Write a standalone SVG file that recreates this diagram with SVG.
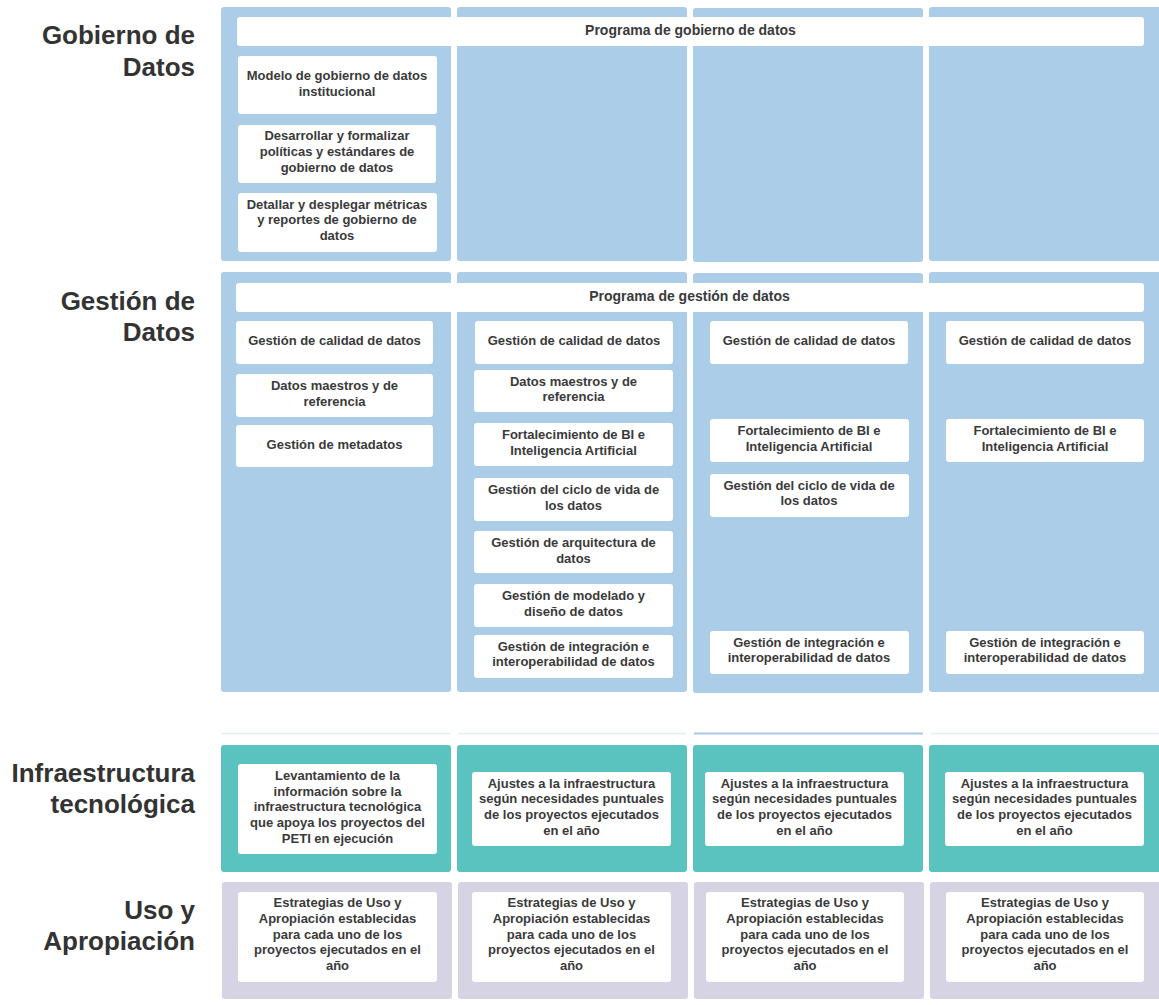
<svg xmlns="http://www.w3.org/2000/svg" width="1159" height="1005" viewBox="0 0 1159 1005">
<style>
.lbl{font-family:"Liberation Sans",Arial,sans-serif;font-weight:bold;font-size:26px;fill:#333;text-anchor:end}
.t{font-family:"Liberation Sans",Arial,sans-serif;font-weight:bold;font-size:13px;fill:#3a3a3a;text-anchor:middle}
.h{font-family:"Liberation Sans",Arial,sans-serif;font-weight:bold;font-size:14px;fill:#3a3a3a;text-anchor:middle}
.blue{fill:#abcde8}
.teal{fill:#5ac3bf}
.lav{fill:#d6d4e4}
.box{fill:#fff}
.faint{stroke:#e3eef8;stroke-width:1.5;fill:none}
</style>
<rect width="1159" height="1005" fill="#fff"/>

<!-- Row labels -->
<g id="label-gobierno"><text class="lbl" x="195" y="44">Gobierno de</text><text class="lbl" x="195" y="76">Datos</text></g>
<g id="label-gestion"><text class="lbl" x="195" y="310">Gestión de</text><text class="lbl" x="195" y="341">Datos</text></g>
<g id="label-infra"><text class="lbl" x="195" y="781.5">Infraestructura</text><text class="lbl" x="195" y="812.5">tecnológica</text></g>
<g id="label-uso"><text class="lbl" x="195" y="919">Uso y</text><text class="lbl" x="195" y="950">Apropiación</text></g>

<!-- Panels -->
<g id="panels-gobierno">
<rect class="blue" x="221" y="7" width="230" height="254" rx="3"/>
<rect class="blue" x="457" y="7" width="230" height="254" rx="3"/>
<rect class="blue" x="693" y="8" width="230" height="254" rx="3"/>
<rect class="blue" x="929" y="7" width="240" height="254" rx="3"/>
</g>
<g id="panels-gestion">
<rect class="blue" x="221" y="272" width="230" height="420" rx="3"/>
<rect class="blue" x="457" y="272" width="230" height="420" rx="3"/>
<rect class="blue" x="693" y="273" width="230" height="420" rx="3"/>
<rect class="blue" x="929" y="272" width="240" height="420" rx="3"/>
</g>
<g id="separator-lines">
<line class="faint" x1="222" y1="733.5" x2="450" y2="733.5"/>
<line class="faint" x1="458" y1="733.5" x2="686" y2="733.5"/>
<line x1="694" y1="733.5" x2="923" y2="733.5" stroke="#a8c8e8" stroke-width="2"/>
<line class="faint" x1="931" y1="733.5" x2="1159" y2="733.5"/>
</g>
<g id="panels-infra">
<rect class="teal" x="221" y="745" width="230" height="127" rx="3"/>
<rect class="teal" x="457" y="745" width="230" height="127" rx="3"/>
<rect class="teal" x="693" y="745" width="230" height="127" rx="3"/>
<rect class="teal" x="929" y="745" width="240" height="127" rx="3"/>
</g>
<g id="panels-uso">
<rect class="lav" x="222" y="882" width="230" height="117" rx="3"/>
<rect class="lav" x="458" y="882" width="230" height="117" rx="3"/>
<rect class="lav" x="694" y="882" width="230" height="117" rx="3"/>
<rect class="lav" x="930" y="882" width="240" height="117" rx="3"/>
</g>

<!-- Gobierno nodes -->
<g id="prog-gobierno"><rect class="box" x="237" y="17" width="907" height="29" rx="3"/><text class="h" x="690.5" y="34.5">Programa de gobierno de datos</text></g>
<g id="gob-modelo"><rect class="box" x="238" y="56" width="199" height="58" rx="3"/><text class="t" x="337" y="80">Modelo de gobierno de datos</text><text class="t" x="337" y="95.5">institucional</text></g>
<g id="gob-politicas"><rect class="box" x="238" y="125" width="198" height="58" rx="3"/><text class="t" x="337" y="140">Desarrollar y formalizar</text><text class="t" x="337" y="156">políticas y estándares de</text><text class="t" x="337" y="171.5">gobierno de datos</text></g>
<g id="gob-metricas"><rect class="box" x="238" y="193" width="199" height="59" rx="3"/><text class="t" x="337" y="208.5">Detallar y desplegar métricas</text><text class="t" x="337" y="224">y reportes de gobierno de</text><text class="t" x="337" y="239.5">datos</text></g>

<!-- Gestión nodes -->
<g id="prog-gestion"><rect class="box" x="236" y="283" width="908" height="29" rx="3"/><text class="h" x="689.5" y="300.5">Programa de gestión de datos</text></g>

<g id="ges1-calidad"><rect class="box" x="236" y="321" width="197" height="43" rx="3"/><text class="t" x="334.5" y="345">Gestión de calidad de datos</text></g>
<g id="ges1-maestros"><rect class="box" x="236" y="374" width="197" height="43" rx="3"/><text class="t" x="334.5" y="390">Datos maestros y de</text><text class="t" x="334.5" y="405.5">referencia</text></g>
<g id="ges1-metadatos"><rect class="box" x="236" y="425" width="197" height="42" rx="3"/><text class="t" x="334.5" y="448.5">Gestión de metadatos</text></g>

<g id="ges2-calidad"><rect class="box" x="475" y="321" width="198" height="43" rx="3"/><text class="t" x="574" y="345">Gestión de calidad de datos</text></g>
<g id="ges2-maestros"><rect class="box" x="474" y="370" width="199" height="42" rx="3"/><text class="t" x="573.5" y="385.5">Datos maestros y de</text><text class="t" x="573.5" y="401">referencia</text></g>
<g id="ges2-bi"><rect class="box" x="474" y="423" width="199" height="43" rx="3"/><text class="t" x="573.5" y="439">Fortalecimiento de BI e</text><text class="t" x="573.5" y="454.5">Inteligencia Artificial</text></g>
<g id="ges2-ciclo"><rect class="box" x="474" y="478" width="199" height="43" rx="3"/><text class="t" x="573.5" y="494">Gestión del ciclo de vida de</text><text class="t" x="573.5" y="509.5">los datos</text></g>
<g id="ges2-arquitectura"><rect class="box" x="474" y="531" width="199" height="42" rx="3"/><text class="t" x="573.5" y="547">Gestión de arquitectura de</text><text class="t" x="573.5" y="562.5">datos</text></g>
<g id="ges2-modelado"><rect class="box" x="474" y="584" width="199" height="43" rx="3"/><text class="t" x="573.5" y="600">Gestión de modelado y</text><text class="t" x="573.5" y="615.5">diseño de datos</text></g>
<g id="ges2-integracion"><rect class="box" x="474" y="635" width="199" height="43" rx="3"/><text class="t" x="573.5" y="650.5">Gestión de integración e</text><text class="t" x="573.5" y="666">interoperabilidad de datos</text></g>

<g id="ges3-calidad"><rect class="box" x="710" y="321" width="198" height="43" rx="3"/><text class="t" x="809" y="345">Gestión de calidad de datos</text></g>
<g id="ges3-bi"><rect class="box" x="710" y="419" width="199" height="43" rx="3"/><text class="t" x="809" y="435">Fortalecimiento de BI e</text><text class="t" x="809" y="450.5">Inteligencia Artificial</text></g>
<g id="ges3-ciclo"><rect class="box" x="710" y="474" width="199" height="43" rx="3"/><text class="t" x="809" y="489.5">Gestión del ciclo de vida de</text><text class="t" x="809" y="505">los datos</text></g>
<g id="ges3-integracion"><rect class="box" x="710" y="631" width="199" height="43" rx="3"/><text class="t" x="809" y="646.5">Gestión de integración e</text><text class="t" x="809" y="662">interoperabilidad de datos</text></g>

<g id="ges4-calidad"><rect class="box" x="946" y="321" width="198" height="43" rx="3"/><text class="t" x="1045" y="345">Gestión de calidad de datos</text></g>
<g id="ges4-bi"><rect class="box" x="946" y="419" width="198" height="43" rx="3"/><text class="t" x="1045" y="435">Fortalecimiento de BI e</text><text class="t" x="1045" y="450.5">Inteligencia Artificial</text></g>
<g id="ges4-integracion"><rect class="box" x="946" y="631" width="198" height="43" rx="3"/><text class="t" x="1045" y="646.5">Gestión de integración e</text><text class="t" x="1045" y="662">interoperabilidad de datos</text></g>

<!-- Infraestructura nodes -->
<g id="inf1"><rect class="box" x="238" y="764" width="199" height="90" rx="3"/><text class="t" x="337.5" y="780">Levantamiento de la</text><text class="t" x="337.5" y="795.7">información sobre la</text><text class="t" x="337.5" y="811.3">infraestructura tecnológica</text><text class="t" x="337.5" y="827">que apoya los proyectos del</text><text class="t" x="337.5" y="842.7">PETI en ejecución</text></g>
<g id="inf2"><rect class="box" x="472" y="772" width="199" height="74" rx="3"/><text class="t" x="571.5" y="787.7">Ajustes a la infraestructura</text><text class="t" x="571.5" y="803.3">según necesidades puntuales</text><text class="t" x="571.5" y="819">de los proyectos ejecutados</text><text class="t" x="571.5" y="834.7">en el año</text></g>
<g id="inf3"><rect class="box" x="705" y="772" width="199" height="74" rx="3"/><text class="t" x="804.5" y="787.7">Ajustes a la infraestructura</text><text class="t" x="804.5" y="803.3">según necesidades puntuales</text><text class="t" x="804.5" y="819">de los proyectos ejecutados</text><text class="t" x="804.5" y="834.7">en el año</text></g>
<g id="inf4"><rect class="box" x="945" y="772" width="199" height="74" rx="3"/><text class="t" x="1044.5" y="787.7">Ajustes a la infraestructura</text><text class="t" x="1044.5" y="803.3">según necesidades puntuales</text><text class="t" x="1044.5" y="819">de los proyectos ejecutados</text><text class="t" x="1044.5" y="834.7">en el año</text></g>

<!-- Uso nodes -->
<g id="uso1"><rect class="box" x="238" y="892" width="199" height="90" rx="3"/><text class="t" x="337.5" y="907.3">Estrategias de Uso y</text><text class="t" x="337.5" y="923">Apropiación establecidas</text><text class="t" x="337.5" y="938.7">para cada uno de los</text><text class="t" x="337.5" y="954.3">proyectos ejecutados en el</text><text class="t" x="337.5" y="970">año</text></g>
<g id="uso2"><rect class="box" x="472" y="892" width="199" height="90" rx="3"/><text class="t" x="571.5" y="907.3">Estrategias de Uso y</text><text class="t" x="571.5" y="923">Apropiación establecidas</text><text class="t" x="571.5" y="938.7">para cada uno de los</text><text class="t" x="571.5" y="954.3">proyectos ejecutados en el</text><text class="t" x="571.5" y="970">año</text></g>
<g id="uso3"><rect class="box" x="706" y="892" width="198" height="90" rx="3"/><text class="t" x="805" y="907.3">Estrategias de Uso y</text><text class="t" x="805" y="923">Apropiación establecidas</text><text class="t" x="805" y="938.7">para cada uno de los</text><text class="t" x="805" y="954.3">proyectos ejecutados en el</text><text class="t" x="805" y="970">año</text></g>
<g id="uso4"><rect class="box" x="946" y="892" width="198" height="90" rx="3"/><text class="t" x="1045" y="907.3">Estrategias de Uso y</text><text class="t" x="1045" y="923">Apropiación establecidas</text><text class="t" x="1045" y="938.7">para cada uno de los</text><text class="t" x="1045" y="954.3">proyectos ejecutados en el</text><text class="t" x="1045" y="970">año</text></g>

<g id="connectors"/>
</svg>
